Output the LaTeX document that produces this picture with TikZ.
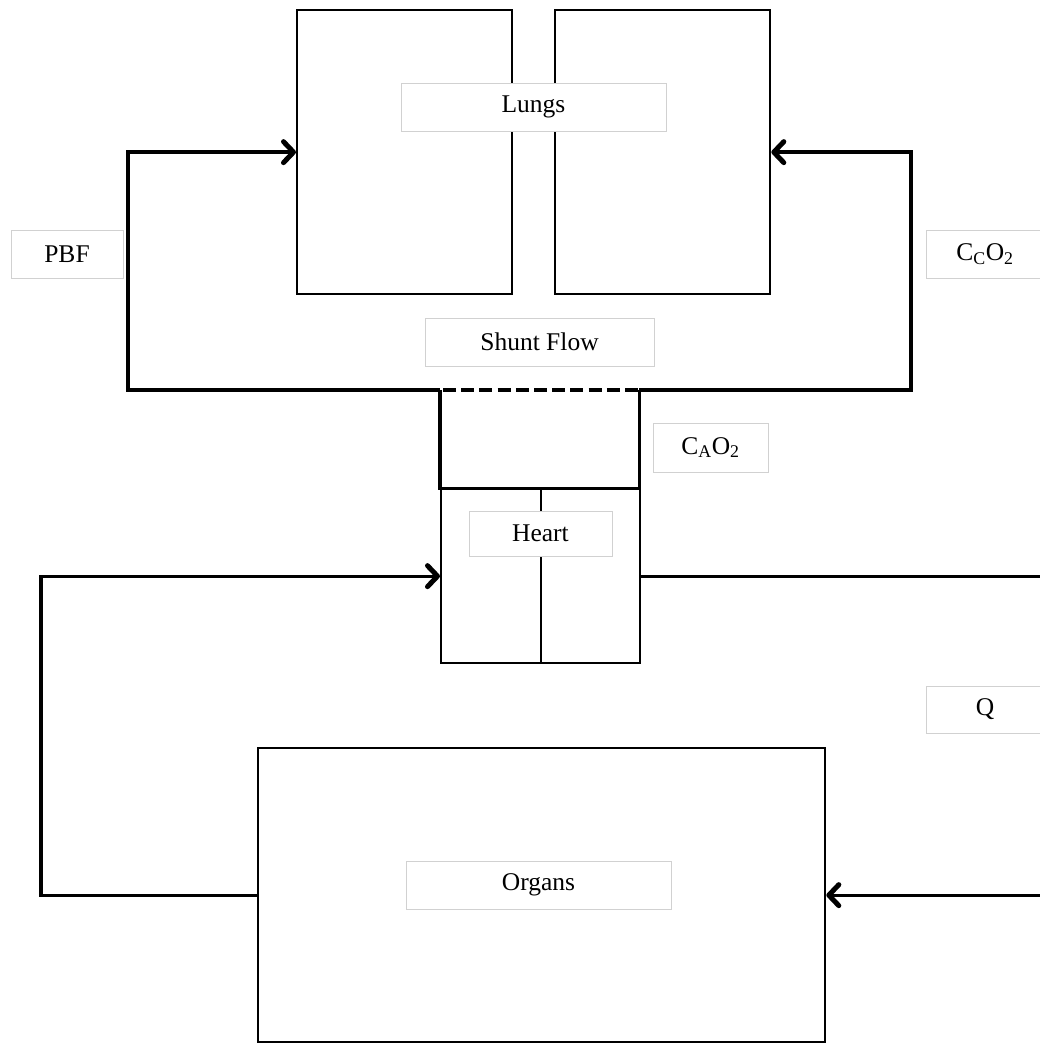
\documentclass[tikz,border=0pt]{standalone}
\usepackage{fontspec}
\setmainfont{Liberation Serif}
\usetikzlibrary{arrows.meta}
\begin{document}
\begin{tikzpicture}[x=1pt,y=-1pt,
  organ/.style={draw=black,line width=2.3pt,fill=white,inner sep=0pt,anchor=north west},
  conn/.style={draw=black,line width=3.3pt},
  tip/.style={-{Straight Barb[length=10pt,width=21pt,line width=5pt,round]}},
  lbl/.style={draw=black!18,line width=0.8pt,fill=white,inner sep=0pt,font=\fontsize{25.5}{29}\selectfont}]
\useasboundingbox (0,0) rectangle (1040,1043);
% boxes
\node[organ,minimum width=215pt,minimum height=284pt] (lungL) at (296,9) {};
\node[organ,minimum width=215pt,minimum height=284pt] (lungR) at (554,9) {};
\node[organ,minimum width=567pt,minimum height=294pt] (organs) at (257,747) {};
\node[inner sep=0pt,minimum width=199pt,minimum height=98pt,anchor=north west] (heartTop) at (440,390) {};
\node[organ,minimum width=199pt,minimum height=174pt] (heartBot) at (440,488) {};
\draw[line width=2pt] (heartBot.north) -- (heartBot.south);
\draw[conn,line join=miter] (heartTop.north west) -- (heartTop.south west) -- (heartTop.south east) -- (heartTop.north east);
\draw[line width=4pt,dash pattern=on 13pt off 5.2pt] ([xshift=3pt]heartTop.north west) -- (heartTop.north east);
% connectors
\coordinate (pl) at (128,390);
\coordinate (pr) at (911,390);
\coordinate (ql) at (41,894);
\coordinate (hr) at (1040,576);
\coordinate (or) at (1040,894);
\draw[conn,tip,line join=miter] (heartTop.north west) -- (pl) |- (lungL.west);
\draw[conn,tip,line join=miter] (heartTop.north east) -- (pr) |- (lungR.east);
\draw[conn,tip,line join=miter] (organs.west) -- (organs.west -| ql) |- (heartBot.west);
\draw[conn] (heartBot.east) -- (heartBot.east -| hr);
\draw[conn,tip] (organs.east -| or) -- (organs.east);
% labels
\node[lbl,minimum width=265pt,minimum height=48pt] (tl) at (533.5,107) {Lungs};
\node[lbl,minimum width=229pt,minimum height=48pt] (ts) at (539.5,342) {Shunt Flow};
\node[lbl,minimum width=112pt,minimum height=48pt] (tp) at (67,254) {PBF};
\node[lbl,minimum width=118pt,minimum height=48pt] (tc) at (985,254) {C\textsubscript{C}O\textsubscript{2}};
\node[lbl,minimum width=115pt,minimum height=49pt] (ta) at (710.5,447.5) {C\textsubscript{A}O\textsubscript{2}};
\node[lbl,minimum width=143pt,minimum height=45pt] (th) at (540.5,533.5) {Heart};
\node[lbl,minimum width=118pt,minimum height=47pt] (tq) at (985,709.5) {Q};
\node[lbl,minimum width=265pt,minimum height=48pt] (to) at (538.5,885) {Organs};
\end{tikzpicture}
\end{document}
